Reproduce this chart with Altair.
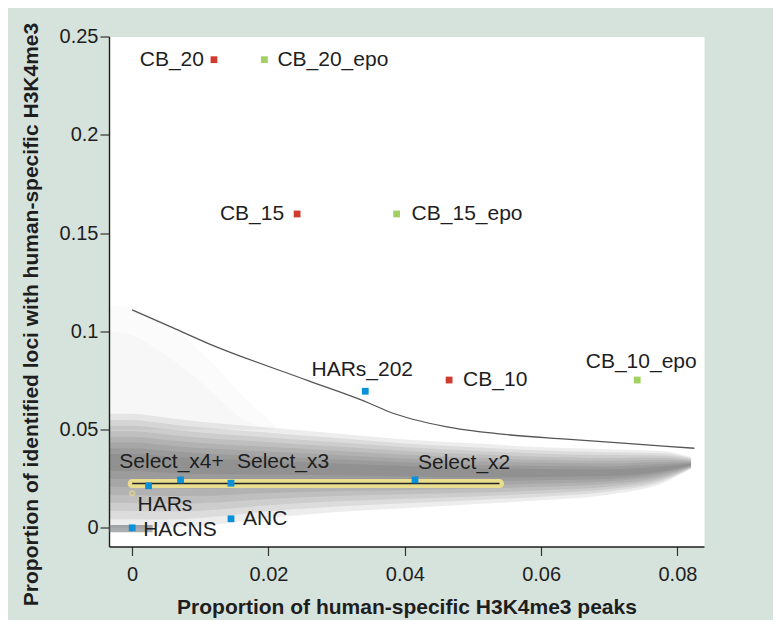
import altair as alt
import pandas as pd

# ---- data ----
names = ["CB_20", "CB_20_epo", "CB_15", "CB_15_epo", "HARs_202", "CB_10", "CB_10_epo",
         "Select_x4+", "Select_x3", "Select_x2", "HARs", "HACNS", "ANC"]
px = [0.0120, 0.0194, 0.0242, 0.0388, 0.0342, 0.0465, 0.0741,
      0.0071, 0.0145, 0.0415, 0.0024, 0.0000, 0.0145]
py = [0.2382, 0.2382, 0.1597, 0.1597, 0.0695, 0.0752, 0.0752,
      0.0244, 0.0227, 0.0244, 0.0214, 0.0000, 0.0046]
grp = ["CB", "CB_epo", "CB", "CB_epo", "set", "CB", "CB_epo",
       "set", "set", "set", "set", "set", "set"]

# threshold curve
curve_x = [0.0, 0.0055, 0.0111, 0.0258, 0.0348, 0.0376, 0.046, 0.0539, 0.0637, 0.0735, 0.0825]
curve_y = [0.1109, 0.1025, 0.0939, 0.0749, 0.0634, 0.0592, 0.0515, 0.0478, 0.0451, 0.0427, 0.0405]

# yellow simulated range at the selected-set level
band_x = [0.0, 0.0539]
band_y = [0.0225, 0.0225]
ring_x = [0.0]
ring_y = [0.0176]

# background density cloud: centre line and extent above / below it
cloud_x = [-0.0034, 0.0, 0.005, 0.01, 0.02, 0.03, 0.04, 0.05, 0.06, 0.07, 0.078, 0.082]
cloud_mid = [0.034, 0.034, 0.033, 0.032, 0.031, 0.030, 0.029, 0.028, 0.028, 0.028, 0.030, 0.032]
cloud_up = [0.024, 0.024, 0.023, 0.022, 0.020, 0.018, 0.016, 0.015, 0.013, 0.012, 0.009, 0.004]
cloud_dn = [0.034, 0.034, 0.033, 0.031, 0.026, 0.022, 0.019, 0.016, 0.014, 0.011, 0.007, 0.002]
# faint streaks at upper left
haze_x = [-0.0034, 0.0, 0.004, 0.008, 0.012, 0.016, 0.021]
haze_lo = [0.05, 0.05, 0.05, 0.05, 0.05, 0.05, 0.05]
haze_hi = [0.113, 0.112, 0.106, 0.096, 0.083, 0.068, 0.052]
haze_hi2 = [0.100, 0.098, 0.090, 0.080, 0.068, 0.056, 0.050]

strip_x = [-0.0034, 0.003]
strip_lo = [-0.0022, -0.0022]
strip_hi = [0.0014, 0.0014]

x_ticks = [0, 0.02, 0.04, 0.06, 0.08]
y_ticks = [0, 0.05, 0.1, 0.15, 0.2, 0.25]
x_title = "Proportion of human-specific H3K4me3 peaks"
y_title = "Proportion of identified loci with human-specific H3K4me3"

# ---- styling ----
cloud_levels = [1.0, 0.87, 0.75, 0.63, 0.51, 0.39, 0.27, 0.15]
cloud_opacity = 0.085
label_style = {
    "CB_20": (-10, 0, "right"), "CB_20_epo": (13, 0, "left"),
    "CB_15": (-13, 0, "right"), "CB_15_epo": (15, 0, "left"),
    "HARs_202": (-3, -21, "center"), "CB_10": (14, 0, "left"),
    "CB_10_epo": (4, -18, "center"), "Select_x4+": (-9, -18, "center"),
    "Select_x3": (6, -21, "left"), "Select_x2": (3, -17, "left"),
    "HARs": (-11, 19, "left"), "HACNS": (11, 2, "left"), "ANC": (12, 0, "left"),
}

FONT = "Liberation Sans"
xscale = alt.Scale(domain=[-0.0034, 0.0839], nice=False, zero=False)
yscale = alt.Scale(domain=[-0.0095, 0.25], nice=False, zero=False)
xaxis = alt.Axis(values=x_ticks, format="~g", title=x_title, labelPadding=9,
                 titleY=61, titleBaseline="middle")
yaxis = alt.Axis(values=y_ticks, format="~g", title=y_title, labelPadding=2,
                 titleX=-78, titleY=277.5, titleBaseline="middle")


def X(f):
    return alt.X(f, type="quantitative", scale=xscale, axis=xaxis)


def Y(f):
    return alt.Y(f, type="quantitative", scale=yscale, axis=yaxis)


layers = []
for hh in (haze_hi, haze_hi2):
    hd = pd.DataFrame({"x": haze_x, "lo": haze_lo, "hi": hh})
    layers.append(alt.Chart(hd).mark_area(color="#3c4248", opacity=0.02, interpolate="monotone")
                  .encode(x=X("x"), y=Y("lo"), y2="hi"))

for lev in cloud_levels:
    d = pd.DataFrame({
        "x": cloud_x,
        "lo": [m - lev * dn for m, dn in zip(cloud_mid, cloud_dn)],
        "hi": [m + lev * up for m, up in zip(cloud_mid, cloud_up)],
    })
    layers.append(alt.Chart(d).mark_area(color="#2a2e33", opacity=cloud_opacity,
                                         interpolate="monotone")
                  .encode(x=X("x"), y=Y("lo"), y2="hi"))

sd = pd.DataFrame({"x": strip_x, "lo": strip_lo, "hi": strip_hi})
layers.append(alt.Chart(sd).mark_area(color="#55595e", opacity=0.5).encode(x=X("x"), y=Y("lo"), y2="hi"))

cd = pd.DataFrame({"x": curve_x, "y": curve_y})
layers.append(alt.Chart(cd).mark_line(color="#555555", strokeWidth=1.3, interpolate="monotone")
              .encode(x=X("x"), y=Y("y")))

bd = pd.DataFrame({"x": band_x, "y": band_y})
layers.append(alt.Chart(bd).mark_line(color="#e8de8e", strokeWidth=9, strokeCap="round")
              .encode(x=X("x"), y=Y("y")))
layers.append(alt.Chart(bd).mark_line(color="#222222", strokeWidth=1.5)
              .encode(x=X("x"), y=Y("y")))
rd = pd.DataFrame({"x": ring_x, "y": ring_y})
layers.append(alt.Chart(rd).mark_point(shape="circle", size=22, color="#e8de8e", strokeWidth=1.5)
              .encode(x=X("x"), y=Y("y")))

pdf = pd.DataFrame({"name": names, "x": px, "y": py, "grp": grp})
layers.append(alt.Chart(pdf).mark_square(size=46, opacity=1).encode(
    x=X("x"), y=Y("y"),
    color=alt.Color("grp:N", scale=alt.Scale(domain=["CB", "CB_epo", "set"],
                                             range=["#cf3b2c", "#a2d061", "#0a90d8"]),
                    legend=None)))

for n in names:
    dx, dy, al = label_style[n]
    ld = pdf[pdf["name"] == n]
    layers.append(alt.Chart(ld).mark_text(font=FONT, fontSize=21, color="#1e1e1e", align=al,
                                          baseline="middle", dx=dx, dy=dy)
                  .encode(x=X("x"), y=Y("y"), text="name:N"))

chart = alt.layer(*layers).properties(
    width=595, height=510, background="#d6e3dc",
    padding={"left": 101, "top": 28.5, "right": 69, "bottom": 73.5},
    autosize=alt.AutoSizeParams(type="none"),
).configure_view(fill="white", stroke="transparent").configure_axis(
    grid=False, domainColor="#1e1e1e", domainWidth=1.4, tickColor="#333333", tickWidth=1.2,
    tickSize=9, labelFont=FONT, labelFontSize=20, labelColor="#1e1e1e",
    titleFont=FONT, titleFontSize=21, titleFontWeight="bold", titleColor="#1e1e1e",
)

chart.save("out.html", embed_options={"renderer": "svg", "actions": False})
